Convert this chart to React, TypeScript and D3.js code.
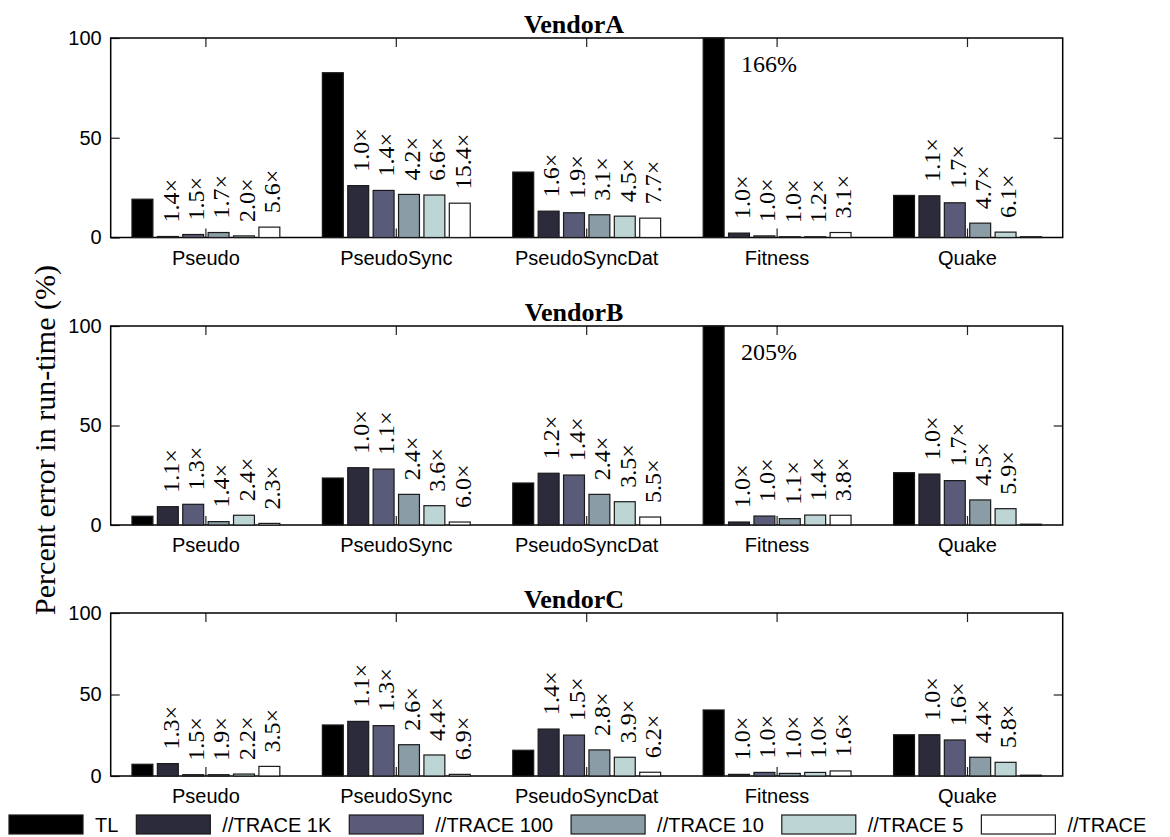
import { useEffect, useRef } from 'react'
import * as d3 from 'd3'

const W = 1170
const H = 837

const categories = ['Pseudo', 'PseudoSync', 'PseudoSyncDat', 'Fitness', 'Quake']
const seriesNames = ['TL', '//TRACE 1K', '//TRACE 100', '//TRACE 10', '//TRACE 5', '//TRACE']
const seriesColors = ['#000000', '#2c2b3b', '#5a5b78', '#8a9ca5', '#bdd5d5', '#ffffff']
const vendors = ['VendorA', 'VendorB', 'VendorC']
const yTicks = [0, 50, 100]

// percent error, one row per category, series order as seriesNames
const vendorA = [
  [19.2, 0.5, 1.5, 2.5, 0.8, 5.2],
  [82.6, 26.0, 23.6, 21.6, 21.3, 17.2],
  [32.8, 13.2, 12.4, 11.4, 10.7, 9.7],
  [166, 2.2, 0.8, 0.3, 0.3, 2.5],
  [21.1, 20.9, 17.4, 7.2, 2.7, 0],
]
const vendorB = [
  [4.4, 9.2, 10.4, 1.7, 4.9, 0.8],
  [23.6, 28.8, 28.1, 15.4, 9.7, 1.5],
  [21.1, 26.0, 25.1, 15.4, 11.7, 4.0],
  [205, 1.5, 4.5, 3.2, 5.0, 4.9],
  [26.3, 25.6, 22.3, 12.6, 8.2, 0],
]
const vendorC = [
  [7.2, 7.6, 0.8, 0.8, 1.2, 5.9],
  [31.3, 33.5, 30.9, 19.2, 12.9, 1.0],
  [15.8, 28.8, 25.1, 16.0, 11.5, 2.3],
  [40.5, 1.0, 2.2, 1.6, 2.2, 3.1],
  [25.3, 25.3, 22.1, 11.5, 8.4, 0],
]

// slowdown labels over the //TRACE bars (1K, 100, 10, 5, plain)
const speedupA = [
  [1.4, 1.5, 1.7, 2.0, 5.6],
  [1.0, 1.4, 4.2, 6.6, 15.4],
  [1.6, 1.9, 3.1, 4.5, 7.7],
  [1.0, 1.0, 1.0, 1.2, 3.1],
  [1.1, 1.7, 4.7, 6.1, null],
]
const speedupB = [
  [1.1, 1.3, 1.4, 2.4, 2.3],
  [1.0, 1.1, 2.4, 3.6, 6.0],
  [1.2, 1.4, 2.4, 3.5, 5.5],
  [1.0, 1.0, 1.1, 1.4, 3.8],
  [1.0, 1.7, 4.5, 5.9, null],
]
const speedupC = [
  [1.3, 1.5, 1.9, 2.2, 3.5],
  [1.1, 1.3, 2.6, 4.4, 6.9],
  [1.4, 1.5, 2.8, 3.9, 6.2],
  [1.0, 1.0, 1.0, 1.0, 1.6],
  [1.0, 1.6, 4.4, 5.8, null],
]

const vendorValues = [vendorA, vendorB, vendorC]
const vendorSpeedups = [speedupA, speedupB, speedupC]

// layout of the three stacked panels
const plotLeft = 110.7
const plotRight = 1062.7
const panelLayout = [
  { top: 38, bottom: 237.5 },
  { top: 326, bottom: 525 },
  { top: 613, bottom: 776 },
]

const SERIF = '"Liberation Serif", "Times New Roman", serif'
const SANS = '"Liberation Sans", Arial, sans-serif'

export default function App() {
  const ref = useRef<SVGSVGElement>(null)

  useEffect(() => {
    if (!ref.current) return
    const svg = d3.select(ref.current)
    svg.selectAll('*').remove()

    const x0 = d3.scaleBand().domain(categories).range([plotLeft, plotRight])
    const bw = x0.bandwidth()
    const x1 = d3
      .scaleBand()
      .domain(seriesNames)
      .range([0, bw * 0.8])
      .paddingInner(0.176)
      .paddingOuter(0.088)

    vendors.forEach((vendor, vi) => {
      const { top, bottom } = panelLayout[vi]
      const y = d3.scaleLinear().domain([0, 100]).range([bottom, top]).clamp(true)
      const g = svg.append('g')

      // ticks, inward on all four sides
      const left = g.append('g').attr('transform', `translate(${plotLeft},0)`)
        .call(d3.axisLeft(y).tickValues(yTicks).tickSizeInner(-9).tickSizeOuter(0).tickPadding(9))
      const right = g.append('g').attr('transform', `translate(${plotRight},0)`)
        .call(d3.axisRight(y).tickValues([50]).tickSizeInner(-9).tickSizeOuter(0).tickFormat(() => ''))
      const topAx = g.append('g').attr('transform', `translate(0,${top})`)
        .call(d3.axisTop(x0).tickSizeInner(-9).tickSizeOuter(0).tickFormat(() => ''))
      const bottomAx = g.append('g').attr('transform', `translate(0,${bottom})`)
        .call(d3.axisBottom(x0).tickSizeInner(-9).tickSizeOuter(0).tickPadding(12.8))
      ;[left, right, topAx, bottomAx].forEach((a) => {
        a.select('.domain').remove()
        a.selectAll('line').attr('stroke', '#222').attr('stroke-width', 1.2)
        a.selectAll('text').attr('fill', '#000').attr('font-family', SANS).attr('font-size', 20)
      })

      g.append('rect')
        .attr('x', plotLeft)
        .attr('y', top)
        .attr('width', plotRight - plotLeft)
        .attr('height', bottom - top)
        .attr('fill', 'none')
        .attr('stroke', '#000')
        .attr('stroke-width', 1.5)

      g.append('text')
        .attr('x', 574)
        .attr('y', top - 5)
        .attr('text-anchor', 'middle')
        .attr('font-family', SERIF)
        .attr('font-weight', 'bold')
        .attr('font-size', 26)
        .text(vendor)

      const values = vendorValues[vi]
      const speedups = vendorSpeedups[vi]

      categories.forEach((cat, ci) => {
        const gx = x0(cat)! + bw * 0.1
        seriesNames.forEach((s, si) => {
          const v = values[ci][si]
          const bx = gx + x1(s)!
          const by = y(v)
          g.append('rect')
            .attr('x', bx)
            .attr('y', Math.min(by, bottom - 0.8))
            .attr('width', x1.bandwidth())
            .attr('height', Math.max(bottom - by, 0.8))
            .attr('fill', seriesColors[si])
            .attr('stroke', '#1a1a1a')
            .attr('stroke-width', 1.2)

          if (v > 100) {
            g.append('text')
              .attr('x', bx + x1.bandwidth() + 17)
              .attr('y', top + 34)
              .attr('font-family', SERIF)
              .attr('font-size', 24)
              .text(`${v}%`)
          }

          if (si > 0) {
            const sp = speedups[ci][si - 1]
            if (sp != null) {
              const cx = bx + x1.bandwidth() / 2
              g.append('text')
                .attr('transform', `translate(${cx},${by - 14}) rotate(-90)`)
                .attr('dy', '0.45em')
                .attr('font-family', SERIF)
                .attr('font-size', 24)
                .text(`${sp.toFixed(1)}×`)
            }
          }
        })
      })
    })

    svg.append('text')
      .attr('transform', 'translate(55,440) rotate(-90)')
      .attr('text-anchor', 'middle')
      .attr('font-family', SERIF)
      .attr('font-size', 30)
      .text('Percent error in run-time (%)')

    // legend along the bottom
    let lx = 9
    seriesNames.forEach((s, si) => {
      svg.append('rect')
        .attr('x', lx)
        .attr('y', 815)
        .attr('width', 74)
        .attr('height', 19)
        .attr('fill', seriesColors[si])
        .attr('stroke', '#1a1a1a')
        .attr('stroke-width', 1.2)
      const t = svg.append('text')
        .attr('x', lx + 86)
        .attr('y', 832)
        .attr('font-family', SANS)
        .attr('font-size', 20)
        .text(s)
      const tw = (t.node() as SVGTextElement).getComputedTextLength()
      lx = lx + 86 + tw + 18
    })

    return () => {
      svg.selectAll('*').remove()
    }
  }, [])

  return (
    <svg
      ref={ref}
      width={W}
      height={H}
      style={{ position: 'absolute', left: 0, top: 0, background: '#fff' }}
    />
  )
}
